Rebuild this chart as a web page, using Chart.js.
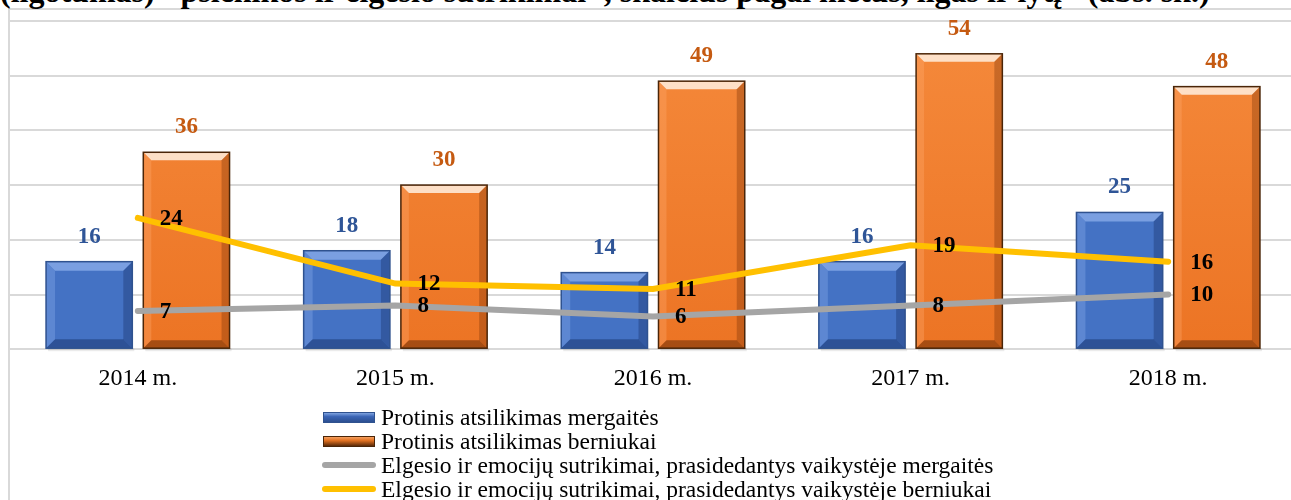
<!DOCTYPE html>
<html>
<head>
<meta charset="utf-8">
<script src="https://cdn.jsdelivr.net/npm/chart.js@4/dist/chart.umd.min.js"></script>
<style>
  html, body { margin: 0; padding: 0; background: #fff; overflow: hidden; width: 1291px; height: 500px; }
  #title { position: absolute; left: 0; top: -25px; line-height: 32px; white-space: nowrap; font-family: "Liberation Serif", "Times New Roman", Times, serif; font-weight: bold; font-size: 32px; color: #000; }
  #frame { position: absolute; left: 8px; top: 8px; width: 1400px; height: 600px; border-left: 2px solid #d9d9d9; border-top: 2px solid #d9d9d9; }
  #wrap { position: absolute; left: 0; top: 0; width: 1310px; height: 419px; }
  #legend { position: absolute; left: 322px; top: 405px; font-family: "Liberation Serif", "Times New Roman", Times, serif; font-size: 23.5px; color: #000; }
  .row { height: 24px; line-height: 24px; display: flex; align-items: center; white-space: nowrap; }
  .sw { width: 54px; margin-right: 5px; flex: none; }
</style>
</head>
<body>
<div id="frame"></div>
<div id="title">(ligotumas) "psichikos ir elgesio sutrikimai", skaičius pagal metus, ligas ir lytį" (abs. sk.)</div>
<div id="wrap"><canvas id="chart" width="1310" height="419"></canvas></div>
<div id="legend"></div>
<script>
const years = ['2014 m.', '2015 m.', '2016 m.', '2017 m.', '2018 m.'];
const girlsMental = [16, 18, 14, 16, 25];
const boysMental = [36, 30, 49, 54, 48];
const girlsBehaviour = [7, 8, 6, 8, 10];
const boysBehaviour = [24, 12, 11, 19, 16];
const seriesNames = [
  'Protinis atsilikimas mergaitės',
  'Protinis atsilikimas berniukai',
  'Elgesio ir emocijų sutrikimai, prasidedantys vaikystėje mergaitės',
  'Elgesio ir emocijų sutrikimai, prasidedantys vaikystėje berniukai'
];
const yMax = 60;
const yStep = 10;

const ctx = document.getElementById('chart').getContext('2d');

// bar fills
function barFill(c1, c2) {
  return (context) => {
    const area = context.chart.chartArea;
    if (!area) return c1;
    const g = context.chart.ctx.createLinearGradient(0, area.top, 0, area.bottom);
    g.addColorStop(0, c1);
    g.addColorStop(1, c2);
    return g;
  };
}

// bevel look drawn over each bar right after its dataset
const bevel = {
  id: 'bevel',
  afterDatasetDraw(chart, args) {
    const ds = chart.data.datasets[args.index];
    if (ds.type !== 'bar') return;
    const c = chart.ctx;
    args.meta.data.forEach((el) => {
      const w = el.width, l = el.x - w / 2, r = el.x + w / 2, t = el.y, b = el.base;
      const d = Math.min(ds.bevelSize, (b - t) / 2);
      const faces = [
        [[l, t], [r, t], [r - d, t + d], [l + d, t + d], ds.bevelTop],
        [[l, t], [l + d, t + d], [l + d, b - d], [l, b], ds.bevelLeft],
        [[r, t], [r, b], [r - d, b - d], [r - d, t + d], ds.bevelRight],
        [[l, b], [l + d, b - d], [r - d, b - d], [r, b], ds.bevelBottom]
      ];
      c.save();
      // soft shadow
      c.fillStyle = 'rgba(0,0,0,0.08)';
      c.fillRect(l + 2, b, w, 3);
      faces.forEach((f) => {
        c.beginPath();
        c.moveTo(f[0][0], f[0][1]);
        for (let k = 1; k < 4; k++) c.lineTo(f[k][0], f[k][1]);
        c.closePath();
        c.fillStyle = f[4];
        c.fill();
      });
      c.strokeStyle = ds.borderColor;
      c.lineWidth = 1.5;
      c.strokeRect(l, t, w, b - t);
      c.restore();
    });
  }
};

const valueLabels = {
  id: 'valueLabels',
  afterDatasetsDraw(chart) {
    const c = chart.ctx;
    chart.data.datasets.forEach((ds, i) => {
      const meta = chart.getDatasetMeta(i);
      meta.data.forEach((el, j) => {
        c.save();
        c.font = 'bold 23px "Liberation Serif", serif';
        c.textBaseline = 'middle';
        if (ds.type === 'bar') {
          c.textAlign = 'center';
          c.fillStyle = ds.labelColor;
          c.fillText(ds.data[j], el.x, el.y - 25);
        } else {
          c.textAlign = 'left';
          c.fillStyle = '#000';
          c.fillText(ds.data[j], el.x + 22, el.y + 1);
        }
        c.restore();
      });
    });
  }
};

const chart = new Chart(ctx, {
  data: {
    labels: years,
    datasets: [
      {
        type: 'line', label: seriesNames[3], data: boysBehaviour, order: 1,
        borderColor: '#FFC000', borderWidth: 6, borderCapStyle: 'round', pointRadius: 0, tension: 0
      },
      {
        type: 'line', label: seriesNames[2], data: girlsBehaviour, order: 1,
        borderColor: '#A5A5A5', borderWidth: 6, borderCapStyle: 'round', pointRadius: 0, tension: 0
      },
      {
        type: 'bar', label: seriesNames[0], data: girlsMental, order: 2,
        backgroundColor: '#4472C4', borderColor: '#2F528F', borderWidth: 0,
        labelColor: '#2F5597', bevelSize: 9,
        bevelTop: 'rgba(140,175,235,0.75)', bevelLeft: 'rgba(110,150,220,0.6)',
        bevelRight: 'rgba(30,60,120,0.45)', bevelBottom: 'rgba(30,60,120,0.6)',
        categoryPercentage: 0.755, barPercentage: 0.887
      },
      {
        type: 'bar', label: seriesNames[1], data: boysMental, order: 2,
        backgroundColor: barFill('#F58A3C', '#EC7424'), borderColor: '#4A2508', borderWidth: 0,
        labelColor: '#C55A11', bevelSize: 8,
        bevelTop: 'rgba(255,240,225,0.85)', bevelLeft: 'rgba(255,170,110,0.35)',
        bevelRight: 'rgba(120,50,5,0.35)', bevelBottom: 'rgba(110,45,5,0.55)',
        categoryPercentage: 0.755, barPercentage: 0.887
      }
    ]
  },
  options: {
    responsive: false,
    animation: false,
    layout: { padding: { left: 9, right: 13, top: 21, bottom: 11 } },
    plugins: { legend: { display: false }, tooltip: { enabled: false } },
    scales: {
      x: {
        grid: { display: false, drawTicks: false },
        border: { display: false },
        ticks: { padding: 15, color: '#000', font: { family: '"Liberation Serif", serif', size: 24 } }
      },
      y: {
        min: 0, max: yMax,
        grid: { color: '#d9d9d9', lineWidth: 2, drawTicks: false },
        border: { display: false },
        ticks: { display: false, stepSize: yStep }
      }
    }
  },
  plugins: [bevel, valueLabels]
});

// legend in the original order
const legendOrder = [2, 3, 1, 0];
const legend = document.getElementById('legend');
legendOrder.forEach((i) => {
  const ds = chart.data.datasets[i];
  const row = document.createElement('div');
  row.className = 'row';
  const sw = document.createElement('div');
  sw.className = 'sw';
  if (ds.type === 'bar') {
    sw.style.height = '11px';
    sw.style.background = i === 2
      ? 'linear-gradient(#7fa3e0, #3b65b5 40%, #2c4f90)'
      : 'linear-gradient(#f6a060, #e07020 40%, #5a2a08)';
    sw.style.border = '1px solid ' + ds.borderColor;
    sw.style.boxSizing = 'border-box';
    sw.style.width = '52px';
    sw.style.marginLeft = '1px';
    sw.style.marginRight = '6px';
  } else {
    sw.style.height = '6px';
    sw.style.borderRadius = '3px';
    sw.style.background = ds.borderColor;
  }
  const tx = document.createElement('span');
  tx.textContent = ds.label;
  row.appendChild(sw);
  row.appendChild(tx);
  legend.appendChild(row);
});
</script>
</body>
</html>
